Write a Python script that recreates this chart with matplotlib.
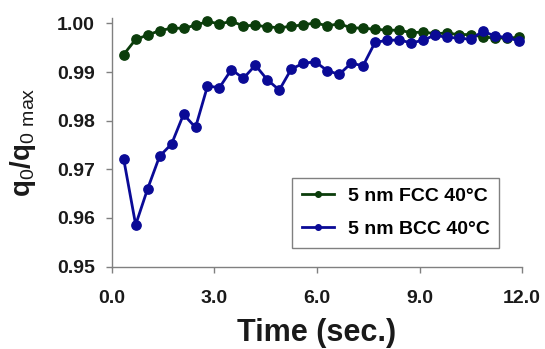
import matplotlib
matplotlib.use("Agg")
import matplotlib.pyplot as plt

plt.rcParams['font.family'] = ['Liberation Sans', 'DejaVu Sans']
plt.rcParams['mathtext.fontset'] = 'custom'
plt.rcParams['mathtext.rm'] = 'Liberation Sans'
plt.rcParams['mathtext.bf'] = 'Liberation Sans:bold'

# time (sec.)
time = [0.35, 0.70, 1.05, 1.40, 1.75, 2.10, 2.45, 2.80, 3.15, 3.50, 3.85, 4.20,
        4.55, 4.90, 5.25, 5.60, 5.95, 6.30, 6.65, 7.00, 7.35, 7.70, 8.05, 8.40,
        8.75, 9.10, 9.45, 9.80, 10.15, 10.50, 10.85, 11.20, 11.55, 11.90]

fcc = [0.9936, 0.9967, 0.9976, 0.9985, 0.9990, 0.9990, 0.9996, 1.0004, 0.9999,
       1.0004, 0.9995, 0.9996, 0.9993, 0.9991, 0.9994, 0.9997, 1.0001, 0.9995,
       0.9999, 0.9991, 0.9990, 0.9988, 0.9986, 0.9986, 0.9981, 0.9982, 0.9979,
       0.9980, 0.9977, 0.9977, 0.9972, 0.9970, 0.9970, 0.9971]

bcc = [0.9721, 0.9586, 0.9660, 0.9727, 0.9752, 0.9813, 0.9786, 0.9871, 0.9868,
       0.9905, 0.9887, 0.9914, 0.9884, 0.9863, 0.9906, 0.9918, 0.9921, 0.9903,
       0.9895, 0.9918, 0.9913, 0.9961, 0.9965, 0.9966, 0.9960, 0.9965, 0.9976,
       0.9971, 0.9970, 0.9967, 0.9984, 0.9974, 0.9971, 0.9964]

fig = plt.figure(figsize=(5.45, 3.49), dpi=100)
ax = fig.add_axes([0.205, 0.236, 0.753, 0.711])

ax.plot(time, fcc, '-o', color='#0b3d0b', lw=2.0, ms=6.7, label='5 nm FCC 40°C', clip_on=False, zorder=3)
ax.plot(time, bcc, '-o', color='#0a0a96', lw=2.0, ms=6.7, label='5 nm BCC 40°C', clip_on=False, zorder=4)

ax.set_xlim(0, 12)
ax.set_ylim(0.95, 1.001)
ax.set_xticks([0, 3, 6, 9, 12])
ax.set_xticklabels(['0.0', '3.0', '6.0', '9.0', '12.0'])
ax.set_yticks([0.95, 0.96, 0.97, 0.98, 0.99, 1.00])
ax.set_yticklabels(['0.95', '0.96', '0.97', '0.98', '0.99', '1.00'])

for s in ['top', 'right']:
    ax.spines[s].set_visible(False)
for s in ['left', 'bottom']:
    ax.spines[s].set_color('#808080')
    ax.spines[s].set_linewidth(1.0)
ax.tick_params(colors='#808080', length=4, width=1.0, labelcolor='#1a1a1a', labelsize=14)
ax.tick_params(axis='x', pad=13)
ax.tick_params(axis='y', pad=8)
for lbl in ax.get_xticklabels() + ax.get_yticklabels():
    lbl.set_fontweight('bold')

ax.set_xlabel('Time (sec.)', fontsize=22, fontweight='bold', color='#1a1a1a', labelpad=8)
ax.set_ylabel(r'$\mathbf{q}_\mathrm{0}\mathbf{/q}_\mathrm{0\ max}$', fontsize=20, color='#1a1a1a', labelpad=14)

leg = ax.legend(loc='lower right', bbox_to_anchor=(0.944, 0.075), borderaxespad=0, fancybox=False,
                edgecolor='#808080', framealpha=1, markerscale=0.6, handlelength=1.65,
                prop={'weight': 'bold', 'size': 14}, borderpad=0.5, labelspacing=0.8,
                handletextpad=0.7)
leg.get_frame().set_linewidth(1.0)

fig.savefig('out.png', dpi=100)
